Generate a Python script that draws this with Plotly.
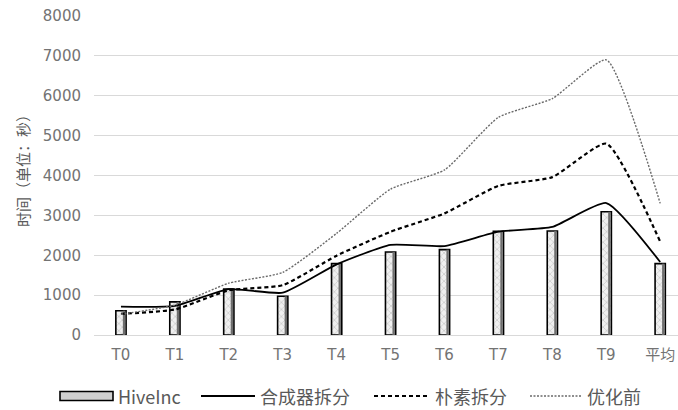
import plotly.graph_objects as go

categories = ["T0", "T1", "T2", "T3", "T4", "T5", "T6", "T7", "T8", "T9", "平均"]
hiveinc = [610, 830, 1150, 970, 1790, 2080, 2140, 2600, 2610, 3090, 1790]
synth_split = [710, 730, 1150, 1060, 1770, 2260, 2230, 2590, 2710, 3310, 1830]
naive_split = [530, 640, 1120, 1250, 1990, 2590, 3050, 3740, 3960, 4800, 2340]
before_opt = [520, 750, 1300, 1570, 2550, 3660, 4140, 5460, 5930, 6900, 3300]
y_ticks = [0, 1000, 2000, 3000, 4000, 5000, 6000, 7000, 8000]
series_names = ["HiveInc", "合成器拆分", "朴素拆分", "优化前"]

CJK = "Noto Sans CJK SC, Noto Sans, sans-serif"
TICK_FONT = "DejaVu Sans, Noto Sans CJK SC, sans-serif"
GREY_TXT = "#595959"
TICK_GREY = "#737373"

# plot-area geometry in pixels (used to place the hand-drawn legend)
W, H = 678, 410
ML, MT, MB = 94, 16, 75
PW, PH = W - ML, H - MT - MB


def px_x(x):
    return (x - ML) / PW


def px_y(y):
    return (H - MB - y) / PH


line_styles = {
    "合成器拆分": dict(color="black", width=1.8),
    "朴素拆分": dict(color="black", width=2.2, dash="4px,3px"),
    "优化前": dict(color="#6a6a6a", width=1.4, dash="2px,1.5px"),
}

fig = go.Figure()

# patterned bars with black outline
fig.add_trace(go.Bar(
    x=categories, y=hiveinc, name=series_names[0],
    width=0.19, offset=-0.095,
    marker=dict(
        color="#f2f2f2",
        line=dict(color="black", width=1.6),
        pattern=dict(shape="x", fgcolor="#9a9a9a", bgcolor="#f0f0f0", size=5, solidity=0.25),
    ),
))
# darker strip along the right side of each bar
fig.add_trace(go.Bar(
    x=categories, y=hiveinc, hoverinfo="skip",
    width=0.045, offset=0.035,
    marker=dict(color="#6e6e6e", line=dict(width=0)),
))

for name, vals in zip(series_names[1:], [synth_split, naive_split, before_opt]):
    fig.add_trace(go.Scatter(
        x=categories, y=vals, name=name, mode="lines",
        line=dict(shape="spline", smoothing=0.5, **line_styles[name]),
    ))

# legend row below the axis: symbol spans and text start (pixels)
legend_y = 396
legend_items = [
    (series_names[0], 60, 113, 116),
    (series_names[1], 201, 255, 258),
    (series_names[2], 374, 428, 433),
    (series_names[3], 530, 582, 585),
]
shapes, annotations = [], []
for name, s0, s1, tx in legend_items:
    if name in line_styles:
        shapes.append(dict(
            type="line", xref="paper", yref="paper",
            x0=px_x(s0), x1=px_x(s1), y0=px_y(legend_y), y1=px_y(legend_y),
            line=line_styles[name],
        ))
    else:
        shapes.append(dict(
            type="rect", xref="paper", yref="paper",
            x0=px_x(s0), x1=px_x(s1), y0=px_y(legend_y + 4.5), y1=px_y(legend_y - 4.5),
            fillcolor="#cfcfcf", line=dict(color="black", width=1.6),
        ))
    annotations.append(dict(
        text=name, xref="paper", yref="paper", x=px_x(tx), y=px_y(legend_y),
        xanchor="left", yanchor="middle", showarrow=False,
        font=dict(family=CJK, size=18, color=GREY_TXT),
    ))

annotations.append(dict(
    text="时间（单位：秒）", textangle=-90,
    xref="paper", yref="paper", x=px_x(22), y=px_y(167),
    xanchor="center", yanchor="middle", showarrow=False,
    font=dict(family=CJK, size=15, color=GREY_TXT),
))

fig.update_layout(
    width=W, height=H,
    margin=dict(l=ML, r=0, t=MT, b=MB),
    paper_bgcolor="white", plot_bgcolor="white",
    font=dict(family=CJK, size=13, color=GREY_TXT),
    barmode="overlay",
    showlegend=False,
    shapes=shapes,
    annotations=annotations,
)

fig.update_xaxes(
    type="category", range=[-0.5, 10.33],
    showgrid=False, showline=False, zeroline=False,
    ticks="", ticklabelstandoff=9,
    tickfont=dict(family=TICK_FONT, size=15, color=TICK_GREY),
)
fig.update_yaxes(
    range=[0, 8000], tickvals=y_ticks,
    showgrid=True, gridcolor="#d9d9d9", gridwidth=1,
    zeroline=True, zerolinecolor="#d9d9d9", zerolinewidth=1,
    showline=False, ticks="", ticklabelstandoff=12,
    tickfont=dict(family=TICK_FONT, size=15, color=TICK_GREY),
)

fig.write_html("out.html")
